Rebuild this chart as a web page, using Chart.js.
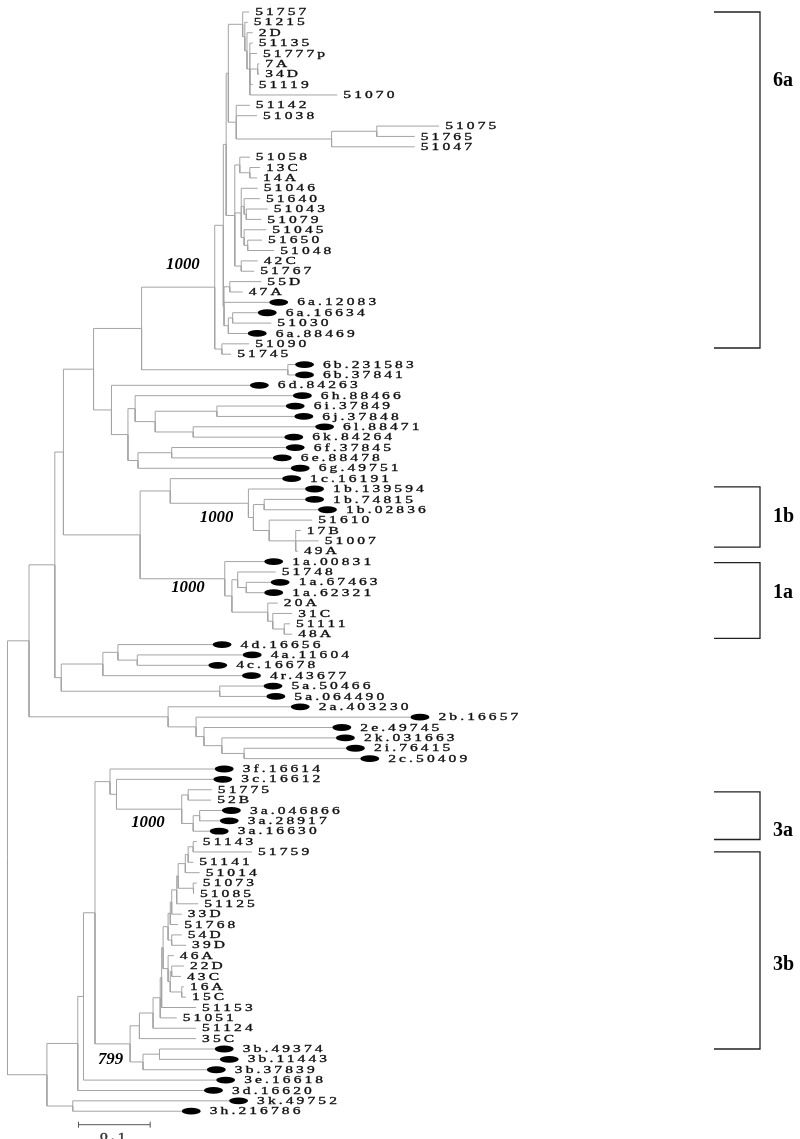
<!DOCTYPE html>
<html>
<head>
<meta charset="utf-8">
<script src="https://cdn.jsdelivr.net/npm/chart.js@4/dist/chart.umd.min.js"></script>
<style>
  html, body { margin: 0; padding: 0; background: #fff; }
  canvas { display: block; }
</style>
</head>
<body>
<canvas id="tree" width="800" height="1139"></canvas>
<script>
// Leaf names top to bottom. Names with a "." are reference sequences (black marker).
const taxa = [
  '51757', '51215', '2D', '51135', '51777p', '7A', '34D', '51119', '51070', '51142',
  '51038', '51075', '51765', '51047', '51058', '13C', '14A', '51046', '51640', '51043',
  '51079', '51045', '51650', '51048', '42C', '51767', '55D', '47A', '6a.12083', '6a.16634',
  '51030', '6a.88469', '51090', '51745', '6b.231583', '6b.37841', '6d.84263', '6h.88466', '6i.37849', '6j.37848',
  '6l.88471', '6k.84264', '6f.37845', '6e.88478', '6g.49751', '1c.16191', '1b.139594', '1b.74815', '1b.02836', '51610',
  '17B', '51007', '49A', '1a.00831', '51748', '1a.67463', '1a.62321', '20A', '31C', '51111',
  '48A', '4d.16656', '4a.11604', '4c.16678', '4r.43677', '5a.50466', '5a.064490', '2a.403230', '2b.16657', '2e.49745',
  '2k.031663', '2i.76415', '2c.50409', '3f.16614', '3c.16612', '51775', '52B', '3a.046866', '3a.28917', '3a.16630',
  '51143', '51759', '51141', '51014', '51073', '51085', '51125', '33D', '51768', '54D',
  '39D', '46A', '22D', '43C', '16A', '15C', '51153', '51051', '51124', '35C',
  '3b.49374', '3b.11443', '3b.37839', '3e.16618', '3d.16620', '3k.49752', '3h.216786'
];

// distance of each leaf from the root
const tipDepth = [
  0.337, 0.335, 0.342, 0.342, 0.348, 0.351, 0.351, 0.342, 0.460, 0.338,
  0.348, 0.602, 0.568, 0.568, 0.338, 0.352, 0.348, 0.349, 0.352, 0.363,
  0.354, 0.361, 0.355, 0.372, 0.349, 0.344, 0.354, 0.328, 0.365, 0.349,
  0.368, 0.335, 0.337, 0.312, 0.401, 0.401, 0.338, 0.398, 0.388, 0.400,
  0.429, 0.386, 0.388, 0.370, 0.395, 0.383, 0.415, 0.415, 0.433, 0.425,
  0.409, 0.434, 0.405, 0.358, 0.374, 0.367, 0.358, 0.377, 0.397, 0.394,
  0.397, 0.286, 0.328, 0.280, 0.327, 0.357, 0.361, 0.395, 0.562, 0.453,
  0.458, 0.472, 0.492, 0.289, 0.287, 0.285, 0.284, 0.299, 0.296, 0.282,
  0.264, 0.341, 0.259, 0.268, 0.264, 0.260, 0.266, 0.243, 0.238, 0.243,
  0.249, 0.232, 0.246, 0.242, 0.246, 0.249, 0.263, 0.236, 0.263, 0.263,
  0.289, 0.296, 0.278, 0.291, 0.274, 0.309, 0.243
];

// internal node each leaf hangs from
const tipParent = [
  10, 11, 12, 13, 13, 14, 14, 13, 13, 15,
  15, 17, 17, 16, 19, 20, 20, 21, 22, 23,
  23, 24, 25, 25, 26, 26, 28, 28, 27, 30,
  30, 29, 31, 31, 32, 32, 33, 35, 37, 37,
  38, 38, 40, 40, 39, 42, 43, 45, 45, 46,
  47, 47, 47, 48, 50, 51, 51, 52, 53, 54,
  54, 57, 58, 58, 56, 59, 59, 60, 61, 62,
  63, 64, 64, 69, 70, 72, 72, 74, 74, 73,
  88, 88, 87, 86, 89, 89, 84, 83, 82, 90,
  90, 91, 93, 93, 94, 94, 79, 78, 77, 76,
  96, 96, 95, 67, 66, 97, 97
];

// internal nodes: distance from the root and parent node (-1 = root)
const nodeDepth = [
  0.000, 0.030, 0.066, 0.078, 0.120, 0.187, 0.289, 0.301, 0.305, 0.308,
  0.328, 0.331, 0.334, 0.338, 0.349, 0.319, 0.452, 0.515, 0.317, 0.324,
  0.338, 0.326, 0.330, 0.333, 0.330, 0.335, 0.326, 0.302, 0.310, 0.308,
  0.314, 0.299, 0.391, 0.145, 0.168, 0.178, 0.206, 0.292, 0.259, 0.182,
  0.229, 0.185, 0.227, 0.336, 0.343, 0.358, 0.365, 0.402, 0.303, 0.313,
  0.321, 0.333, 0.363, 0.370, 0.386, 0.075, 0.133, 0.154, 0.181, 0.296,
  0.224, 0.263, 0.274, 0.299, 0.330, 0.055, 0.098, 0.106, 0.122, 0.143,
  0.152, 0.243, 0.252, 0.259, 0.268, 0.171, 0.184, 0.203, 0.213, 0.215,
  0.217, 0.224, 0.227, 0.229, 0.236, 0.238, 0.248, 0.252, 0.259, 0.259,
  0.229, 0.224, 0.227, 0.229, 0.243, 0.189, 0.212, 0.091
];
const nodeParent = [
  -1, 0, 1, 2, 3, 4, 5, 6, 7, 8,
  9, 10, 11, 12, 13, 9, 15, 16, 8, 18,
  19, 18, 21, 22, 21, 24, 18, 7, 27, 27,
  29, 6, 5, 4, 33, 34, 35, 36, 36, 34,
  39, 3, 41, 42, 43, 44, 44, 46, 41, 48,
  49, 50, 49, 52, 53, 2, 55, 56, 57, 55,
  1, 60, 61, 62, 63, 0, 65, 66, 67, 68,
  69, 70, 71, 71, 73, 68, 75, 76, 77, 78,
  79, 80, 81, 82, 83, 84, 85, 86, 87, 85,
  81, 80, 91, 92, 92, 75, 95, 65
];

// bootstrap support shown on the tree
const bootNode = [6, 43, 48, 71, 75];
const bootValue = ['1000', '1000', '1000', '1000', '799'];

// genotype brackets on the right (in leaf rows)
const cladeName = ['6a', '1b', '1a', '3a', '3b'];
const cladeFrom = [0, 45.8, 53.1, 75.2, 81.0];
const cladeTo = [32.4, 51.6, 60.4, 79.8, 100.0];
const cladeLabelRow = [6.6, 48.7, 56.0, 79.0, 91.9];

const scaleBarLength = 0.1;
const scaleBarStart = 0.099;
const scaleBarRow = 107.3;

// label placement for the bootstrap values (pixels from the node)
const bootDx = [-15, -15, -20, -17, -7];
const bootDy = [-22, 15, 9, 14, 16];

// ---- node rows: middle of first and last child ----
const kidTips = nodeDepth.map(() => []);
const kidNodes = nodeDepth.map(() => []);
tipParent.forEach((p, i) => kidTips[p].push(i));
nodeParent.forEach((p, k) => { if (p >= 0) kidNodes[p].push(k); });
const nodeRow = [];
function rowOf(k) {
  if (nodeRow[k] === undefined) {
    const rows = kidTips[k].concat(kidNodes[k].map(rowOf));
    nodeRow[k] = (Math.min(...rows) + Math.max(...rows)) / 2;
  }
  return nodeRow[k];
}
nodeDepth.forEach((d, k) => rowOf(k));

// each child: down the parent's vertical, then across to the child
const branchPoints = [];
function elbow(px, py, cx, cy) {
  branchPoints.push({ x: px, y: py }, { x: px, y: cy }, { x: cx, y: cy }, { x: cx, y: null });
}
tipParent.forEach((p, i) => elbow(nodeDepth[p], nodeRow[p], tipDepth[i], i));
nodeParent.forEach((p, k) => { if (p >= 0) elbow(nodeDepth[p], nodeRow[p], nodeDepth[k], nodeRow[k]); });

// the leaf labels are drawn wide and spaced out, like the original figure
function wideText(ctx, text, x, y, align) {
  ctx.save();
  ctx.font = '10px "Liberation Serif", "DejaVu Serif", serif';
  ctx.letterSpacing = '2px';
  const w = ctx.measureText(text).width * 1.55;
  ctx.translate(align === 'center' ? x - w / 2 : x, y);
  ctx.scale(1.55, 1);
  ctx.textAlign = 'left';
  ctx.lineWidth = 0.3;
  ctx.strokeStyle = ctx.fillStyle;
  ctx.fillText(text, 0, 0);
  ctx.strokeText(text, 0, 0);
  ctx.restore();
}

const treeText = {
  id: 'treeText',
  afterDatasetsDraw(chart) {
    const { ctx, chartArea, scales: { x, y } } = chart;
    ctx.save();
    ctx.textBaseline = 'middle';

    taxa.forEach((name, i) => {
      const tx = x.getPixelForValue(tipDepth[i]);
      const ty = y.getPixelForValue(i);
      let lx = tx + 6;
      if (name.includes('.')) {
        ctx.fillStyle = '#000';
        ctx.beginPath();
        ctx.ellipse(tx + 9.5, ty, 9.5, 3.4, 0, 0, Math.PI * 2);
        ctx.fill();
        lx = tx + 28;
      }
      ctx.fillStyle = '#111';
      wideText(ctx, name, lx, ty + 0.5, 'left');
    });

    ctx.fillStyle = '#000';
    ctx.font = 'italic bold 16px "Liberation Serif", serif';
    ctx.textAlign = 'right';
    bootNode.forEach((k, j) => {
      const nx = x.getPixelForValue(nodeDepth[k]);
      const ny = y.getPixelForValue(nodeRow[k]);
      ctx.save();
      ctx.translate(nx + bootDx[j], ny + bootDy[j]);
      ctx.scale(1.05, 1);
      ctx.fillText(bootValue[j], 0, 0);
      ctx.restore();
    });

    // genotype brackets
    const bx = chartArea.right - 40;
    ctx.strokeStyle = '#222';
    ctx.lineWidth = 1.3;
    ctx.font = 'bold 20px "Liberation Serif", serif';
    ctx.textAlign = 'left';
    cladeName.forEach((c, j) => {
      const y0 = y.getPixelForValue(cladeFrom[j]);
      const y1 = y.getPixelForValue(cladeTo[j]);
      ctx.beginPath();
      ctx.moveTo(bx - 46, y0);
      ctx.lineTo(bx, y0);
      ctx.lineTo(bx, y1);
      ctx.lineTo(bx - 46, y1);
      ctx.stroke();
      ctx.fillText(c, bx + 13, y.getPixelForValue(cladeLabelRow[j]));
    });

    // scale bar
    const sx0 = x.getPixelForValue(scaleBarStart);
    const sx1 = x.getPixelForValue(scaleBarStart + scaleBarLength);
    const sy = y.getPixelForValue(scaleBarRow);
    ctx.strokeStyle = '#555';
    ctx.lineWidth = 1;
    ctx.beginPath();
    ctx.moveTo(sx0, sy); ctx.lineTo(sx1, sy);
    ctx.moveTo(sx0, sy - 3); ctx.lineTo(sx0, sy + 3);
    ctx.moveTo(sx1, sy - 3); ctx.lineTo(sx1, sy + 3);
    ctx.stroke();
    ctx.fillStyle = '#333';
    ctx.textBaseline = 'top';
    wideText(ctx, String(scaleBarLength), (sx0 + sx1) / 2, sy + 8, 'center');
    ctx.restore();
  }
};

new Chart(document.getElementById('tree'), {
  type: 'scatter',
  data: {
    datasets: [{
      label: 'branches',
      data: branchPoints,
      showLine: true,
      spanGaps: false,
      borderColor: '#a4a4a4',
      borderWidth: 1,
      pointRadius: 0,
      fill: false,
    }]
  },
  options: {
    responsive: false,
    animation: false,
    devicePixelRatio: 1,
    events: [],
    layout: { padding: 0 },
    plugins: { legend: { display: false }, tooltip: { enabled: false } },
    scales: {
      x: { type: 'linear', min: -0.01046, max: 1.1053, display: false },
      y: { type: 'linear', min: -1.157, max: 108.68, reverse: true, display: false }
    }
  },
  plugins: [treeText]
});
</script>
</body>
</html>
